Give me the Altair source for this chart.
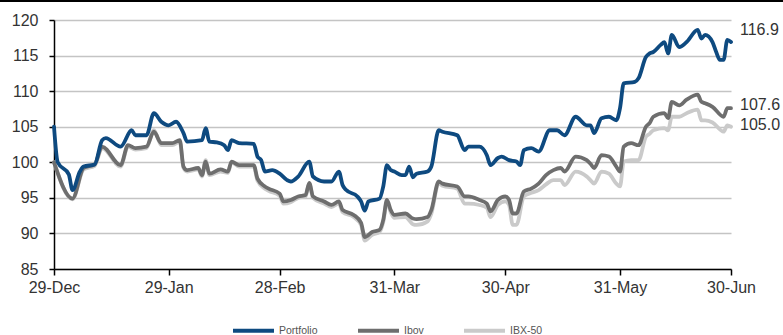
import altair as alt
import pandas as pd

# Cumulative performance, base 100 on 29-Dec
start = pd.Timestamp("2016-12-29")

portfolio_days = [0, 1, 4, 5, 7, 8, 11, 13, 14, 18,
                  21, 22, 25, 27, 29, 31, 33, 35, 36, 40,
                  41, 42, 44, 46, 47, 48, 50, 54, 55, 56,
                  57, 59, 61, 63, 64, 66, 69, 70, 73, 75,
                  77, 78, 79, 82, 83, 84, 85, 88, 89, 90,
                  91, 92, 94, 95, 96, 97, 98, 101, 102, 104,
                  105, 109, 111, 112, 115, 117, 118, 120, 121, 123,
                  125, 126, 127, 129, 131, 134, 136, 138, 141, 144,
                  145, 146, 148, 150, 152, 153, 154, 157, 158, 160,
                  161, 162, 164, 165, 166, 167, 169, 171, 174, 175,
                  176, 178, 179, 180, 181, 182, 183]
portfolio_vals = [105.0, 100.0, 98.3, 96.1, 98.7, 99.4, 99.7, 103.1, 103.4, 102.2,
                  104.5, 103.8, 103.8, 106.9, 105.7, 105.2, 105.7, 104.1, 102.9, 103.1,
                  104.8, 102.9, 102.8, 102.4, 101.7, 103.1, 102.7, 102.6, 100.8, 100.3,
                  98.7, 98.9, 98.4, 97.5, 97.3, 98.0, 100.1, 98.0, 97.3, 97.3,
                  98.7, 96.8, 96.1, 95.2, 94.5, 93.2, 94.5, 94.9, 96.6, 99.6,
                  98.9, 98.7, 98.2, 98.2, 99.4, 97.9, 98.4, 98.7, 99.4, 104.5,
                  104.3, 103.8, 101.7, 102.2, 102.2, 101.0, 99.6, 100.6, 100.8, 100.3,
                  100.1, 99.6, 101.7, 102.0, 101.5, 104.5, 104.5, 103.8, 106.4, 105.2,
                  105.2, 104.1, 106.2, 106.4, 105.9, 107.6, 111.1, 111.3, 111.8, 114.8,
                  115.3, 115.5, 116.5, 116.9, 115.3, 117.9, 116.2, 116.9, 118.6, 117.4,
                  117.9, 116.9, 115.5, 114.4, 114.4, 117.2, 116.9]

index_days = [0, 5, 8, 11, 13, 18, 20, 22, 25, 27,
              29, 32, 34, 35, 36, 39, 40, 41, 42, 45,
              47, 48, 50, 54, 55, 57, 58, 61, 62, 64,
              66, 68, 69, 70, 73, 75, 77, 78, 81, 83,
              84, 86, 88, 89, 90, 91, 92, 95, 97, 98,
              101, 102, 104, 105, 109, 111, 112, 115, 117, 118,
              120, 122, 123, 124, 125, 127, 129, 131, 133, 135,
              137, 138, 141, 144, 145, 146, 148, 150, 152, 153,
              154, 156, 158, 160, 161, 162, 165, 166, 167, 169,
              171, 174, 175, 176, 178, 181, 182, 183]
ibov_vals = [100.0, 94.9, 99.2, 99.7, 102.2, 99.6, 102.4, 102.0, 102.2, 104.3,
             102.7, 102.7, 103.1, 99.4, 98.9, 99.2, 98.2, 100.1, 98.4, 99.0,
             98.7, 100.1, 99.6, 99.6, 97.7, 96.6, 96.3, 95.6, 94.5, 94.7,
             95.2, 95.4, 97.1, 95.2, 94.5, 94.0, 94.5, 93.3, 92.6, 91.5,
             89.5, 90.2, 90.5, 91.9, 94.7, 93.3, 92.6, 92.8, 92.1, 92.0,
             92.3, 93.3, 97.3, 97.0, 96.6, 95.2, 95.2, 94.7, 94.2, 93.1,
             94.7, 95.2, 94.7, 92.8, 92.8, 95.9, 96.3, 97.0, 98.2, 98.9,
             99.2, 98.7, 100.8, 100.3, 99.8, 99.2, 101.0, 100.8, 99.4, 98.7,
             102.2, 102.7, 102.4, 105.0, 105.5, 106.4, 106.9, 106.2, 108.5, 108.0,
             108.8, 109.5, 108.5, 108.3, 107.8, 106.4, 107.6, 107.6]
ibx_vals = [100.0, 94.8, 99.0, 99.5, 102.0, 99.4, 102.2, 101.8, 102.0, 104.5,
            102.4, 102.4, 102.9, 99.2, 98.7, 99.0, 98.0, 100.3, 98.2, 98.7,
            98.5, 100.0, 99.4, 99.4, 97.4, 96.3, 96.0, 95.3, 94.2, 94.4,
            95.0, 95.2, 97.0, 95.0, 94.2, 93.7, 94.2, 93.0, 92.3, 91.2,
            89.0, 89.8, 90.2, 91.6, 94.4, 93.0, 92.2, 92.3, 91.3, 91.2,
            91.7, 92.8, 97.1, 96.7, 96.3, 94.2, 94.2, 94.0, 93.6, 92.3,
            94.0, 94.5, 94.0, 91.2, 91.2, 95.2, 95.7, 96.1, 96.9, 97.5,
            97.5, 96.8, 98.7, 98.0, 97.5, 97.0, 98.7, 98.4, 97.0, 96.6,
            100.1, 100.3, 100.3, 103.6, 104.0, 104.5, 104.8, 104.5, 106.4, 106.4,
            106.9, 107.4, 105.9, 105.9, 105.6, 104.3, 105.2, 105.0]

series_names = ["Portfolio", "Ibov", "IBX-50"]
series_colors = ["#0e4a80", "#6e6e6e", "#cacaca"]
end_label_dy = [-12, -3, -2]
tick_dates = [(2016, 12, 29), (2017, 1, 29), (2017, 2, 28), (2017, 3, 31),
              (2017, 4, 30), (2017, 5, 31), (2017, 6, 30)]


def frame(name, days, vals):
    return pd.DataFrame({
        "series": name,
        "date": [(start + pd.Timedelta(days=d)).strftime("%Y-%m-%d") for d in days],
        "value": vals,
    })


frames = {
    "Portfolio": frame("Portfolio", portfolio_days, portfolio_vals),
    "Ibov": frame("Ibov", index_days, ibov_vals),
    "IBX-50": frame("IBX-50", index_days, ibx_vals),
}

x_enc = alt.X(
    "date:T",
    scale=alt.Scale(
        type="utc",
        domain=[alt.DateTime(year=2016, month=12, date=29, utc=True),
                alt.DateTime(year=2017, month=6, date=30, utc=True)],
        nice=False,
    ),
    axis=alt.Axis(
        title=None,
        values=[alt.DateTime(year=y, month=m, date=d, utc=True) for y, m, d in tick_dates],
        labelExpr="utcFormat(datum.value, '%d-%b')",
        grid=False,
        tickSize=6,
        labelPadding=4,
        labelFlush=False,
    ),
)
y_enc = alt.Y(
    "value:Q",
    scale=alt.Scale(domain=[85, 120], nice=False, zero=False),
    axis=alt.Axis(
        title=None,
        values=[85, 90, 95, 100, 105, 110, 115, 120],
        grid=True,
        tickSize=5,
        labelPadding=11,
    ),
)
color_enc = alt.Color(
    "series:N",
    scale=alt.Scale(domain=series_names, range=series_colors),
    legend=alt.Legend(
        title=None,
        orient="none",
        legendX=177,
        legendY=288,
        direction="horizontal",
        symbolType="stroke",
        symbolSize=1681,
        symbolStrokeWidth=4,
        labelFontSize=10.5,
        labelColor="#555555",
        labelOffset=3,
        columnPadding=32,
    ),
)

layers = []
# lighter index first, portfolio on top
for name in ["IBX-50", "Ibov", "Portfolio"]:
    layers.append(
        alt.Chart(frames[name]).mark_line(
            strokeWidth=3.8, interpolate="monotone", strokeCap="round", strokeJoin="round"
        ).encode(x=x_enc, y=y_enc, color=color_enc)
    )

for name, dy in zip(series_names, end_label_dy):
    last = frames[name].tail(1).assign(label=lambda d: d["value"].map(lambda v: f"{v:.1f}"))
    layers.append(
        alt.Chart(last).mark_text(
            align="left", baseline="middle", dx=9, dy=dy,
            fontSize=16, font="Liberation Sans", color="#333333"
        ).encode(x=x_enc, y=y_enc, text="label:N")
    )

# thin frame line across the top edge
layers.append(
    alt.Chart(pd.DataFrame({"k": [0]})).mark_rule(color="black", strokeWidth=2).encode(
        x=alt.value(-54), x2=alt.value(729), y=alt.value(-19)
    )
)

chart = alt.layer(*layers).properties(
    width=677,
    height=249,
    autosize=alt.AutoSizeParams(type="none"),
    padding={"left": 54, "top": 20, "right": 52, "bottom": 66},
).configure_view(stroke=None).configure_axis(
    labelFont="Liberation Sans",
    labelFontSize=16,
    labelColor="#333333",
    domainColor="black",
    domainWidth=1.5,
    tickColor="black",
    tickWidth=1.5,
    gridColor="#c4c4c4",
    gridWidth=1.5,
).configure_legend(
    labelFont="Liberation Sans",
)

chart.save("out.html", embed_options={"renderer": "svg", "actions": False})
